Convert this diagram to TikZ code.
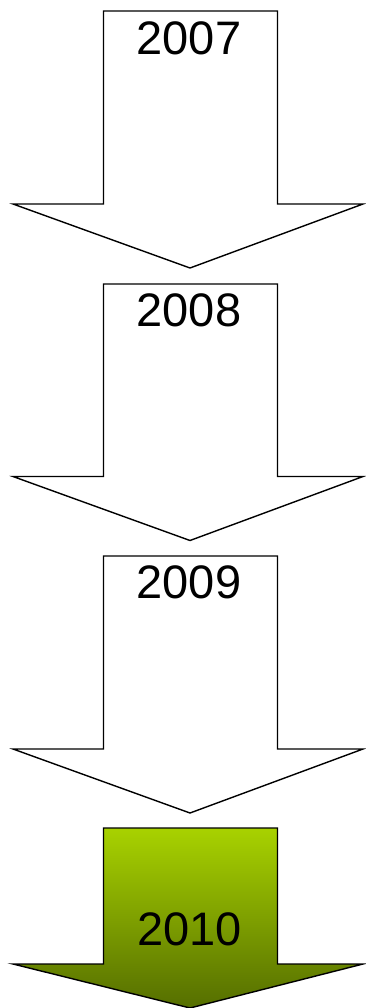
\documentclass[tikz,border=0pt]{standalone}
\usepackage{fontspec}
\setmainfont{Liberation Sans}
\definecolor{gtop}{RGB}{168,210,0}
\definecolor{gbot}{RGB}{85,110,0}
\tikzset{
  bigarrow/.style={draw=black, line width=1.4pt, line join=miter, fill=white},
  greenarrow/.style={draw=black, line width=1.4pt, line join=miter, top color=gtop, bottom color=gbot},
  yearlabel/.style={font=\fontsize{47}{56}\selectfont, inner sep=0pt, anchor=center}
}
\newcommand{\downarrowshape}[4]{% style, top, shoulder, tip
  \path[#1] (103.5,#2) -- (277.5,#2) -- (277.5,#3) -- (363,#3) -- (190,#4) -- (13,#3) -- (103.5,#3) -- cycle;
}
\begin{document}
\begin{tikzpicture}[x=1pt,y=-1pt]
\useasboundingbox (0,0) rectangle (365,1008);
\downarrowshape{bigarrow}{11}{204}{268}
\downarrowshape{bigarrow}{284}{476.5}{540.5}
\downarrowshape{bigarrow}{556}{749}{813}
\downarrowshape{greenarrow}{828}{964}{1008}
\node[yearlabel] (y2007) at (189,38) {2007};
\node[yearlabel] (y2008) at (189,310) {2008};
\node[yearlabel] (y2009) at (189,582.5) {2009};
\node[yearlabel] (y2010) at (189.5,929) {2010};
\end{tikzpicture}
\end{document}
